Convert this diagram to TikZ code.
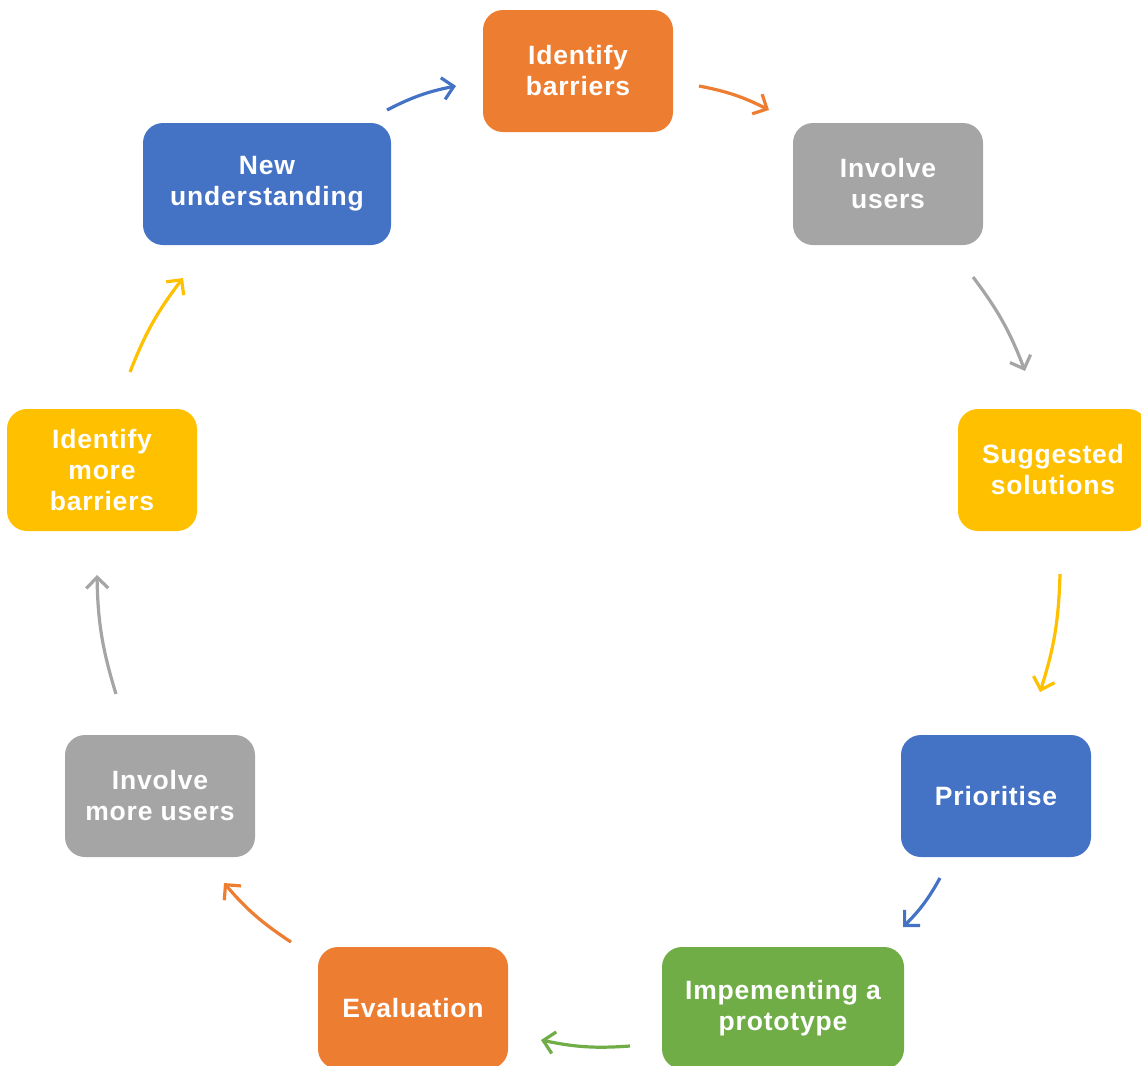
\documentclass[tikz,border=0pt]{standalone}
\usepackage{fontspec}
\setmainfont{Liberation Sans}[LetterSpace=3]
\usetikzlibrary{arrows.meta}
\definecolor{cOrange}{HTML}{ED7D31}
\definecolor{cGray}{HTML}{A5A5A5}
\definecolor{cYellow}{HTML}{FFC000}
\definecolor{cBlue}{HTML}{4472C4}
\definecolor{cGreen}{HTML}{70AD47}
\tikzset{
  box/.style={rounded corners=20pt, minimum width=190pt, minimum height=122pt,
    inner sep=2pt, align=center, text=white,
    font=\bfseries\fontsize{26.5}{31}\selectfont},
  cyc/.style={line width=3.2pt, -{Straight Barb[length=11pt,width=22pt]}, bend left=8}
}
\begin{document}
\begin{tikzpicture}[x=1pt,y=-1pt]
\useasboundingbox (0,0) rectangle (1141,1066);
\clip (0,0) rectangle (1141,1066);
\node[box, fill=cOrange] (n1) at (578,71) {Identify\\barriers};
\node[box, fill=cGray] (n2) at (888,184) {Involve\\users};
\node[box, fill=cYellow] (n3) at (1053,470) {Suggested\\solutions};
\node[box, fill=cBlue] (n4) at (996,796) {Prioritise};
\node[box, fill=cGreen, minimum width=242pt] (n5) at (783,1008) {Impementing a\\prototype};
\node[box, fill=cOrange] (n6) at (413,1008) {Evaluation};
\node[box, fill=cGray] (n7) at (160,796) {Involve\\more users};
\node[box, fill=cYellow] (n8) at (102,470) {Identify\\more\\barriers};
\node[box, fill=cBlue, minimum width=248pt] (n9) at (267,184) {New\\understanding};

\coordinate (a1s) at (387,110); \coordinate (a1e) at (456,86);
\coordinate (a2s) at (699,86);  \coordinate (a2e) at (769,110);
\coordinate (a3s) at (973,277); \coordinate (a3e) at (1025,371);
\coordinate (a4s) at (1060,574); \coordinate (a4e) at (1040,692);
\coordinate (a5s) at (940,878); \coordinate (a5e) at (903,927);
\coordinate (a6s) at (630,1046); \coordinate (a6e) at (541,1040);
\coordinate (a7s) at (291,942); \coordinate (a7e) at (224,883);
\coordinate (a8s) at (116,694); \coordinate (a8e) at (97,575);
\coordinate (a9s) at (130,372); \coordinate (a9e) at (183,278);

\draw[cyc, cBlue] (a1s) to (a1e);
\draw[cyc, cOrange] (a2s) to (a2e);
\draw[cyc, cGray] (a3s) to (a3e);
\draw[cyc, cYellow] (a4s) to (a4e);
\draw[cyc, cBlue] (a5s) to (a5e);
\draw[cyc, cGreen] (a6s) to (a6e);
\draw[cyc, cOrange] (a7s) to (a7e);
\draw[cyc, cGray] (a8s) to (a8e);
\draw[cyc, cYellow] (a9s) to (a9e);
\end{tikzpicture}
\end{document}
